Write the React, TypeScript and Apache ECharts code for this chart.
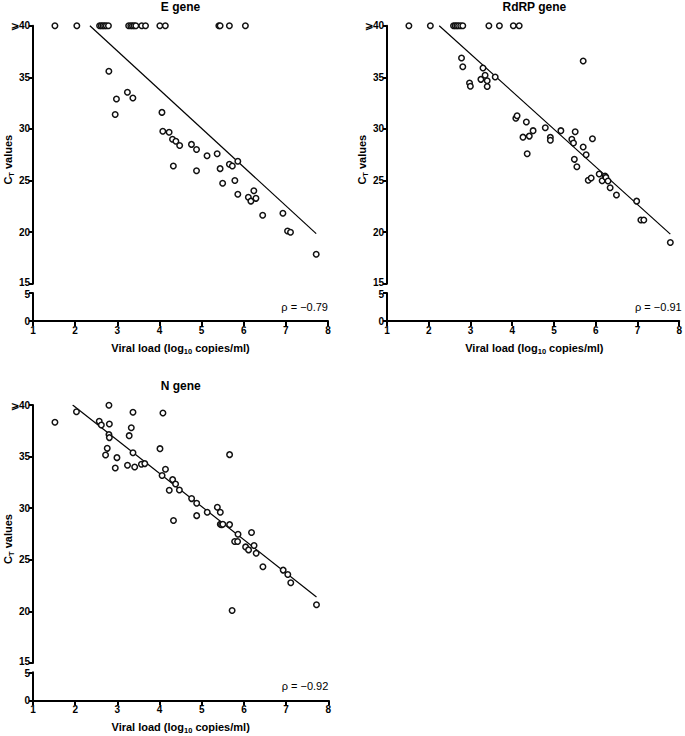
import React, { useEffect, useRef } from "react";
import * as echarts from "echarts";

// E gene
const eX = [1.52, 2.04, 2.58, 2.62, 2.66, 2.70, 2.74, 2.79, 3.27, 3.32, 3.36, 3.40, 3.44, 3.58, 3.67, 4.01, 4.14, 5.41, 5.44, 5.66, 6.04,
  2.80, 2.98, 2.95, 3.24, 3.37, 4.06, 4.08, 4.23, 4.31, 4.39, 4.48, 4.33, 4.76, 4.88, 4.88, 5.13, 5.37, 5.44, 5.66, 5.73, 5.86, 5.79,
  5.50, 5.86, 6.11, 6.17, 6.24, 6.29, 6.45, 6.93, 7.04, 7.11, 7.72];
const eY = [40, 40, 40, 40, 40, 40, 40, 40, 40, 40, 40, 40, 40, 40, 40, 40, 40, 40, 40, 40, 40,
  35.58, 32.9, 31.4, 33.55, 33.0, 31.6, 29.77, 29.67, 29.0, 28.8, 28.4, 26.4, 28.5, 28.0, 25.95, 27.4, 27.6, 26.15, 26.57, 26.4, 26.86, 25.0,
  24.73, 23.66, 23.37, 23.0, 24.0, 23.27, 21.63, 21.82, 20.1, 19.98, 17.85];
const eFitX = [2.35, 7.72];
const eFitY = [40, 19.85];

// RdRP gene
const rX = [1.52, 2.03, 2.58, 2.62, 2.66, 2.70, 2.75, 2.80, 3.42, 3.67, 4.00, 4.14,
  2.77, 2.80, 2.96, 2.98, 3.23, 3.28, 3.33, 3.38, 3.38, 3.57, 4.06, 4.09, 4.23, 4.31, 4.33, 4.38, 4.47, 4.76, 4.88, 4.88,
  5.13, 5.39, 5.43, 5.47, 5.45, 5.51, 5.66, 5.66, 5.73, 5.88, 5.78, 5.85, 6.04, 6.11, 6.18, 6.20, 6.25, 6.30, 6.45, 6.93, 7.03, 7.10, 7.73];
const rY = [40, 40, 40, 40, 40, 40, 40, 40, 40, 40, 40, 40,
  36.87, 36.03, 34.45, 34.13, 34.8, 35.9, 35.2, 34.67, 34.1, 35.03, 31.03, 31.28, 29.2, 30.67, 27.6, 29.3, 29.83, 30.12, 29.18, 28.9,
  29.83, 29.0, 28.63, 29.73, 27.05, 26.34, 36.58, 28.25, 27.5, 29.05, 25.02, 25.24, 25.63, 24.98, 25.44, 25.3, 24.95, 24.3, 23.6, 23.0, 21.17, 21.17, 19.0];
const rFitX = [2.24, 7.73];
const rFitY = [40, 19.8];

// N gene
const nX = [1.52, 2.03, 2.57, 2.62, 2.80, 2.81, 2.80, 2.81, 2.76, 2.72, 2.99, 2.95, 3.24, 3.28, 3.33, 3.37, 3.37, 3.41, 3.57, 3.65,
  4.01, 4.08, 4.06, 4.14, 4.31, 4.38, 4.23, 4.47, 4.33, 4.76, 4.88, 4.88, 5.13, 5.37, 5.44, 5.44, 5.47, 5.50, 5.66, 5.66,
  5.86, 5.78, 5.85, 6.04, 6.18, 6.24, 6.11, 6.29, 6.45, 6.93, 7.04, 7.11, 7.72, 5.72];
const nY = [38.32, 39.35, 38.42, 38.06, 39.97, 38.16, 37.13, 36.84, 35.8, 35.16, 34.9, 33.9, 34.16, 37.03, 37.8, 39.29, 35.38, 34.0, 34.26, 34.32,
  35.77, 39.23, 33.16, 33.77, 32.77, 32.35, 31.74, 31.77, 28.8, 30.93, 30.48, 29.28, 29.6, 30.1, 29.6, 28.45, 28.4, 28.45, 35.19, 28.41,
  27.48, 26.77, 26.77, 26.25, 27.64, 26.38, 25.96, 25.64, 24.32, 24.0, 23.57, 22.77, 20.64, 20.09];
const nFitX = [1.94, 7.72];
const nFitY = [40, 21.4];

const xTicks = [1, 2, 3, 4, 5, 6, 7, 8];
const rhoLabels = ["ρ = −0.79", "ρ = −0.91", "ρ = −0.92"];
const titles = ["E gene", "RdRP gene", "N gene"];

const FONT = "Liberation Sans, Arial, sans-serif";

export default function App() {
  const ref = useRef<HTMLDivElement>(null);
  useEffect(() => {
    document.body.style.margin = "0";
    const chart = echarts.init(ref.current!, null, { renderer: "svg" });

    const panels = [
      { left: 33, width: 295, top: 25.7, x: eX, y: eY, fx: eFitX, fy: eFitY },
      { left: 387, width: 294.7, top: 25.7, x: rX, y: rY, fx: rFitX, fy: rFitY },
      { left: 33, width: 295.3, top: 405, x: nX, y: nY, fx: nFitX, fy: nFitY },
    ];
    const grids: any[] = [];
    const xAxes: any[] = [];
    const yAxes: any[] = [];
    const series: any[] = [];
    const graphics: any[] = [];
    const axisLine = { show: true, lineStyle: { color: "#000", width: 2 } };
    const axisTick = { show: true, length: 4, lineStyle: { color: "#000", width: 2 } };
    const axisLabel = { color: "#000", fontSize: 10, fontWeight: "bold", fontFamily: FONT, margin: 3 };
    const rich = {
      u: { color: "#000", fontSize: 10, fontWeight: "bold", fontFamily: FONT, padding: [0, 0, 3, 0] },
      d: { color: "#000", fontSize: 10, fontWeight: "bold", fontFamily: FONT, padding: [3, 0, 0, 0] },
    };
    const subRich = {
      a: { fill: "#000", fontSize: 11, fontWeight: "bold", fontFamily: FONT, lineHeight: 14, verticalAlign: "middle" },
      s: { fill: "#000", fontSize: 7.5, fontWeight: "bold", fontFamily: FONT, lineHeight: 14, verticalAlign: "bottom", padding: [5, 0, 0, 0] },
    };

    panels.forEach((p, i) => {
      const upTop = p.top;
      const upH = 258;
      const lowTop = upTop + 267.3;
      const lowH = 28;
      grids.push({ left: p.left, width: p.width, top: upTop, height: upH });
      grids.push({ left: p.left, width: p.width, top: lowTop, height: lowH });
      const gu = i * 2;
      const gl = i * 2 + 1;
      xAxes.push({ gridIndex: gu, type: "value", min: 1, max: 8, interval: 1, show: false });
      xAxes.push({
        gridIndex: gl, type: "value", min: 1, max: 8, interval: 1,
        axisLine, axisTick: { ...axisTick, length: 5 }, splitLine: { show: false },
        axisLabel: { ...axisLabel, margin: 4, formatter: (v: number) => String(xTicks[v - 1] ?? v) },
      });
      yAxes.push({
        gridIndex: gu, type: "value", min: 15, max: 40, interval: 5,
        axisLine, axisTick, splitLine: { show: false },
        axisLabel: {
          ...axisLabel, rich,
          formatter: (v: number) => (v === 40 ? "⩾40" : v === 15 ? "{u|15}" : String(v)),
        },
      });
      yAxes.push({
        gridIndex: gl, type: "value", min: 0, max: 5, interval: 5,
        axisLine, axisTick, splitLine: { show: false },
        axisLabel: { ...axisLabel, rich, formatter: (v: number) => (v === 5 ? "{d|5}" : String(v)) },
      });
      series.push({
        type: "line", xAxisIndex: gu, yAxisIndex: gu,
        data: p.fx.map((v, k) => [v, p.fy[k]]),
        showSymbol: false, symbol: "none", lineStyle: { color: "#000", width: 1.2 }, z: 2,
      });
      series.push({
        type: "scatter", xAxisIndex: gu, yAxisIndex: gu, clip: false,
        data: p.x.map((v, k) => [v, p.y[k]]),
        symbol: "circle", symbolSize: 5.5,
        itemStyle: { color: "#fff", borderColor: "#111", borderWidth: 1.5, opacity: 1 }, z: 3,
      });
      const cx = p.left + p.width / 2;
      graphics.push({
        type: "text", x: cx, y: upTop - 19,
        style: { text: titles[i], fill: "#000", font: `bold 12px ${FONT}`, align: "center", verticalAlign: "middle" },
      });
      graphics.push({
        type: "text", x: p.left + p.width, y: lowTop + 14,
        style: { text: rhoLabels[i], fill: "#000", font: `11px ${FONT}`, align: "right", verticalAlign: "middle" },
      });
      graphics.push({
        type: "text", x: cx, y: lowTop + 55,
        style: { text: "{a|Viral load (log}{s|10}{a| copies/ml)}", align: "center", verticalAlign: "middle", rich: subRich },
      });
      graphics.push({
        type: "text", x: p.left - 25, y: upTop + 134, rotation: Math.PI / 2,
        style: { text: "{a|C}{s|T}{a| values}", align: "center", verticalAlign: "middle", rich: subRich },
      });
    });

    chart.setOption({
      animation: false,
      backgroundColor: "#fff",
      grid: grids,
      xAxis: xAxes,
      yAxis: yAxes,
      series,
      graphic: graphics,
    });
    return () => chart.dispose();
  }, []);
  return <div ref={ref} style={{ width: 685, height: 736 }} />;
}
